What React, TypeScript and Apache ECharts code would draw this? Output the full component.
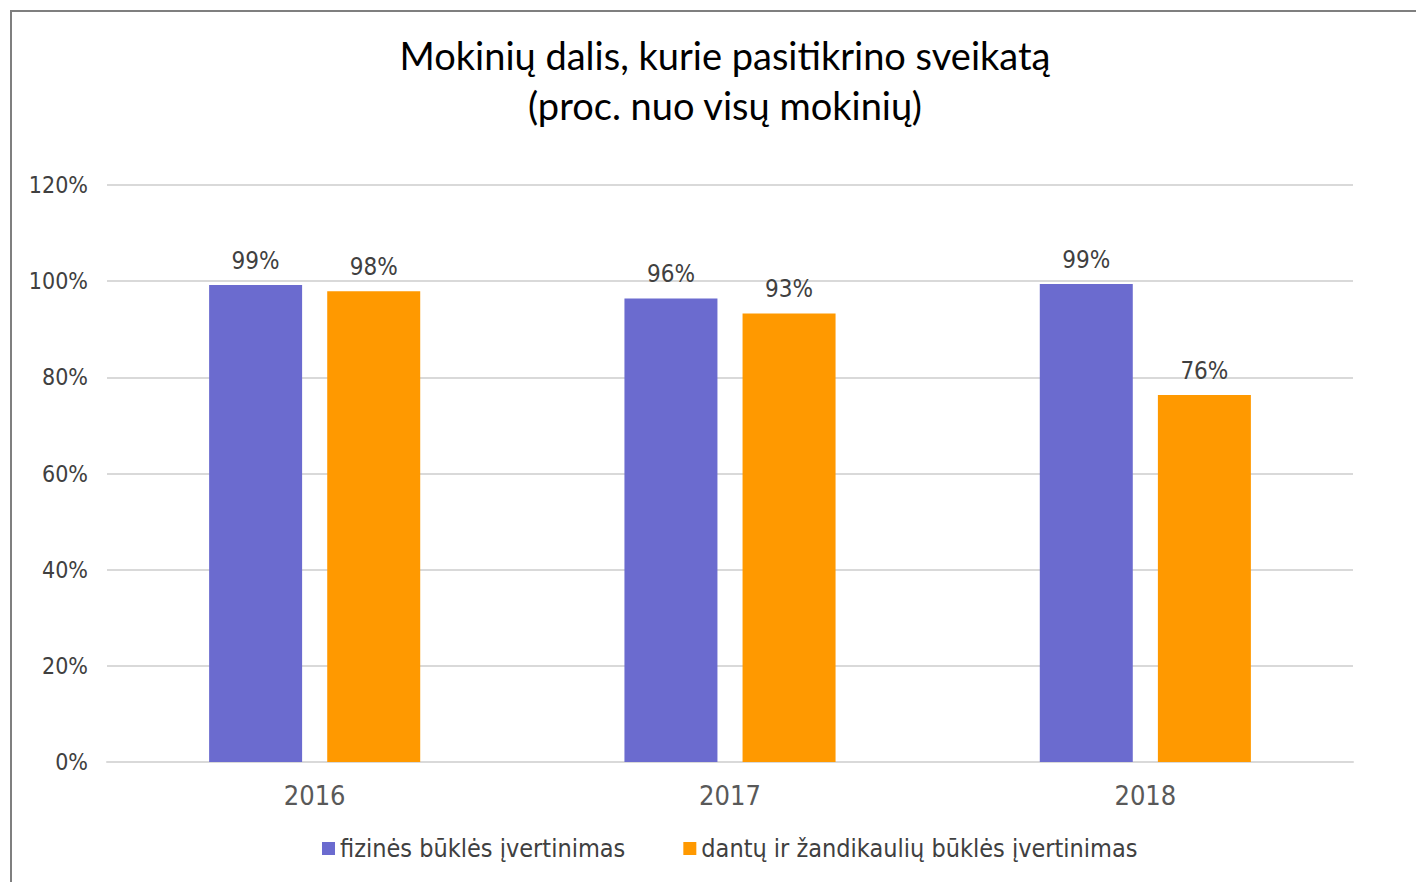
import React, { useEffect, useRef } from "react";
import * as echarts from "echarts";

const categories = ["2016", "2017", "2018"];
const physical = [99.2, 96.4, 99.4];
const dental = [97.9, 93.3, 76.3];
const seriesNames = ["fizinės būklės įvertinimas", "dantų ir žandikaulių būklės įvertinimas"];
const titleLines = ["Mokinių dalis, kurie pasitikrino sveikatą", "(proc. nuo visų mokinių)"];

export default function App() {
  const ref = useRef<HTMLDivElement>(null);
  useEffect(() => {
    const chart = echarts.init(ref.current!, null, { renderer: "svg" });
    const labelFont = "'Liberation Sans Narrow', 'DejaVu Sans Condensed', sans-serif";
    const label = {
      show: true,
      position: "top",
      distance: 12,
      color: "#404040",
      fontSize: 24,
      fontFamily: labelFont,
      formatter: (p: any) => Math.round(p.value) + "%",
    };
    chart.setOption({
      animation: false,
      backgroundColor: "#fff",
      title: {
        text: titleLines.join("\n"),
        left: 720,
        textAlign: "center",
        top: 25,
        textStyle: {
          fontFamily: "Lato, 'Open Sans', sans-serif",
          fontSize: 38,
          fontWeight: "normal",
          color: "#000",
          lineHeight: 50,
        },
      },
      graphic: [
        {
          type: "rect",
          shape: { x: 11, y: 11, width: 1440, height: 900 },
          style: { fill: "none", stroke: "#7f7f7f", lineWidth: 2 },
          silent: true,
        },
      ],
      grid: { left: 107, right: 63, top: 185, bottom: 120, containLabel: false },
      legend: {
        bottom: 16,
        left: 317,
        itemWidth: 13,
        itemHeight: 13,
        itemGap: 58,
        icon: "rect",
        textStyle: { fontSize: 25, color: "#404040", fontFamily: labelFont },
        data: seriesNames,
      },
      xAxis: {
        type: "category",
        data: categories,
        axisLine: { lineStyle: { color: "#d9d9d9", width: 2 } },
        axisTick: { show: false },
        axisLabel: { color: "#595959", fontSize: 27, fontFamily: labelFont, margin: 20 },
      },
      yAxis: {
        type: "value",
        min: 0,
        max: 120,
        interval: 20,
        axisLine: { show: false },
        axisTick: { show: false },
        axisLabel: {
          color: "#404040",
          fontSize: 23,
          fontFamily: labelFont,
          margin: 19,
          formatter: (v: number) => v + "%",
        },
        splitLine: { lineStyle: { color: "#d9d9d9", width: 2 } },
      },
      series: [
        {
          name: seriesNames[0],
          type: "bar",
          data: physical,
          barWidth: 93,
          barGap: "27%",
          itemStyle: { color: "#6B6BCF" },
          label,
        },
        {
          name: seriesNames[1],
          type: "bar",
          data: dental,
          barWidth: 93,
          itemStyle: { color: "#FF9900" },
          label,
        },
      ],
    });
    return () => chart.dispose();
  }, []);
  return (
    <div
      ref={ref}
      style={{ position: "fixed", left: 0, top: 0, width: 1416, height: 882 }}
    />
  );
}
